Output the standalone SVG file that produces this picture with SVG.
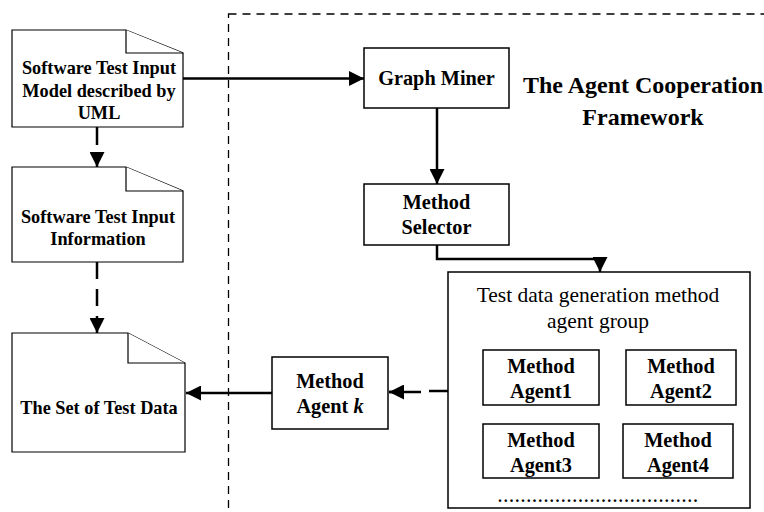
<svg xmlns="http://www.w3.org/2000/svg" width="764" height="512" viewBox="0 0 764 512">
<style>
.doc{fill:#fff;stroke:#000;stroke-width:1.2}
.box{fill:#fff;stroke:#000;stroke-width:1.5}
.t{font-family:"Liberation Serif",serif;font-weight:bold;font-size:20.3px;text-anchor:middle;fill:#000}
.d{font-family:"Liberation Serif",serif;font-weight:bold;font-size:18.3px;text-anchor:middle;fill:#000}
.n{font-family:"Liberation Serif",serif;font-size:21.5px;text-anchor:middle;fill:#000}
.title{font-family:"Liberation Serif",serif;font-weight:bold;font-size:24px;text-anchor:middle;fill:#000}
.c{fill:none;stroke:#000;stroke-width:2.5}
</style>
<defs>
<marker id="ah" markerWidth="6" markerHeight="6" refX="6" refY="3" orient="auto" markerUnits="strokeWidth">
<path d="M0,0 L6,3 L0,6 Z" fill="#000"/>
</marker>
</defs>
<rect x="228.5" y="14" width="560" height="520" fill="none" stroke="#000" stroke-width="1.3" stroke-dasharray="8,6"/>
<g id="title">
<text class="title" x="643" y="93">The Agent Cooperation</text>
<text class="title" x="643" y="125">Framework</text>
</g>
<g id="doc1">
<path class="doc" d="M12,30 H126 L183,53 V127 H12 Z"/>
<path class="doc" d="M126,30 V53 H183" fill="none"/>
<text class="d" x="99" y="74">Software Test Input</text>
<text class="d" x="99" y="97">Model described by</text>
<text class="d" x="99" y="119">UML</text>
</g>
<g id="doc2">
<path class="doc" d="M12,167 H126 L183,191 V262 H12 Z"/>
<path class="doc" d="M126,167 V191 H183" fill="none"/>
<text class="d" x="98" y="223">Software Test Input</text>
<text class="d" x="98" y="245">Information</text>
</g>
<g id="doc3">
<path class="doc" d="M12,333 H128 L185,363 V452 H12 Z"/>
<path class="doc" d="M128,333 V363 H185" fill="none"/>
<text class="d" x="99" y="414">The Set of Test Data</text>
</g>
<g id="graphMiner">
<rect class="box" x="364" y="48" width="145" height="60"/>
<text class="t" x="436.5" y="85">Graph Miner</text>
</g>
<g id="methodSelector">
<rect class="box" x="364" y="184" width="145" height="61"/>
<text class="t" x="436.5" y="209">Method</text>
<text class="t" x="436.5" y="234">Selector</text>
</g>
<g id="agentGroup">
<rect class="box" x="448" y="272" width="302" height="236"/>
<text class="n" x="598" y="302">Test data generation method</text>
<text class="n" x="598" y="328">agent group</text>
<text x="498" y="502" font-family="Liberation Serif,serif" font-weight="bold" font-size="16px" letter-spacing="1.75">...................................</text>
</g>
<g id="agent1">
<rect class="box" x="483" y="350" width="116" height="55"/>
<text class="t" x="541" y="373">Method</text>
<text class="t" x="541" y="398">Agent1</text>
</g>
<g id="agent2">
<rect class="box" x="626" y="350" width="110" height="55"/>
<text class="t" x="681" y="373">Method</text>
<text class="t" x="681" y="398">Agent2</text>
</g>
<g id="agent3">
<rect class="box" x="483" y="424" width="116" height="54"/>
<text class="t" x="541" y="447">Method</text>
<text class="t" x="541" y="472">Agent3</text>
</g>
<g id="agent4">
<rect class="box" x="623" y="424" width="110" height="54"/>
<text class="t" x="678" y="447">Method</text>
<text class="t" x="678" y="472">Agent4</text>
</g>
<g id="methodAgentK">
<rect class="box" x="272" y="357" width="116" height="72"/>
<text class="t" x="330" y="388">Method</text>
<text class="t" x="330" y="413">Agent <tspan font-style="italic">k</tspan></text>
</g>
<g id="connectors">
<path class="c" d="M183,78.5 H364" marker-end="url(#ah)"/>
<path class="c" d="M437,108 V184" marker-end="url(#ah)"/>
<path class="c" d="M437,245 V259 H600 V272" marker-end="url(#ah)"/>
<path class="c" d="M97,127 V167" stroke-dasharray="18,7" marker-end="url(#ah)"/>
<path class="c" d="M97,262 V333" stroke-dasharray="17,10" marker-end="url(#ah)"/>
<path class="c" d="M448,391 H429 M421,392 H389" stroke-dasharray="19,8"/>
<path class="c" d="M403,392 H389" marker-end="url(#ah)"/>
<path class="c" d="M272,393 H186" marker-end="url(#ah)"/>
</g>
</svg>
